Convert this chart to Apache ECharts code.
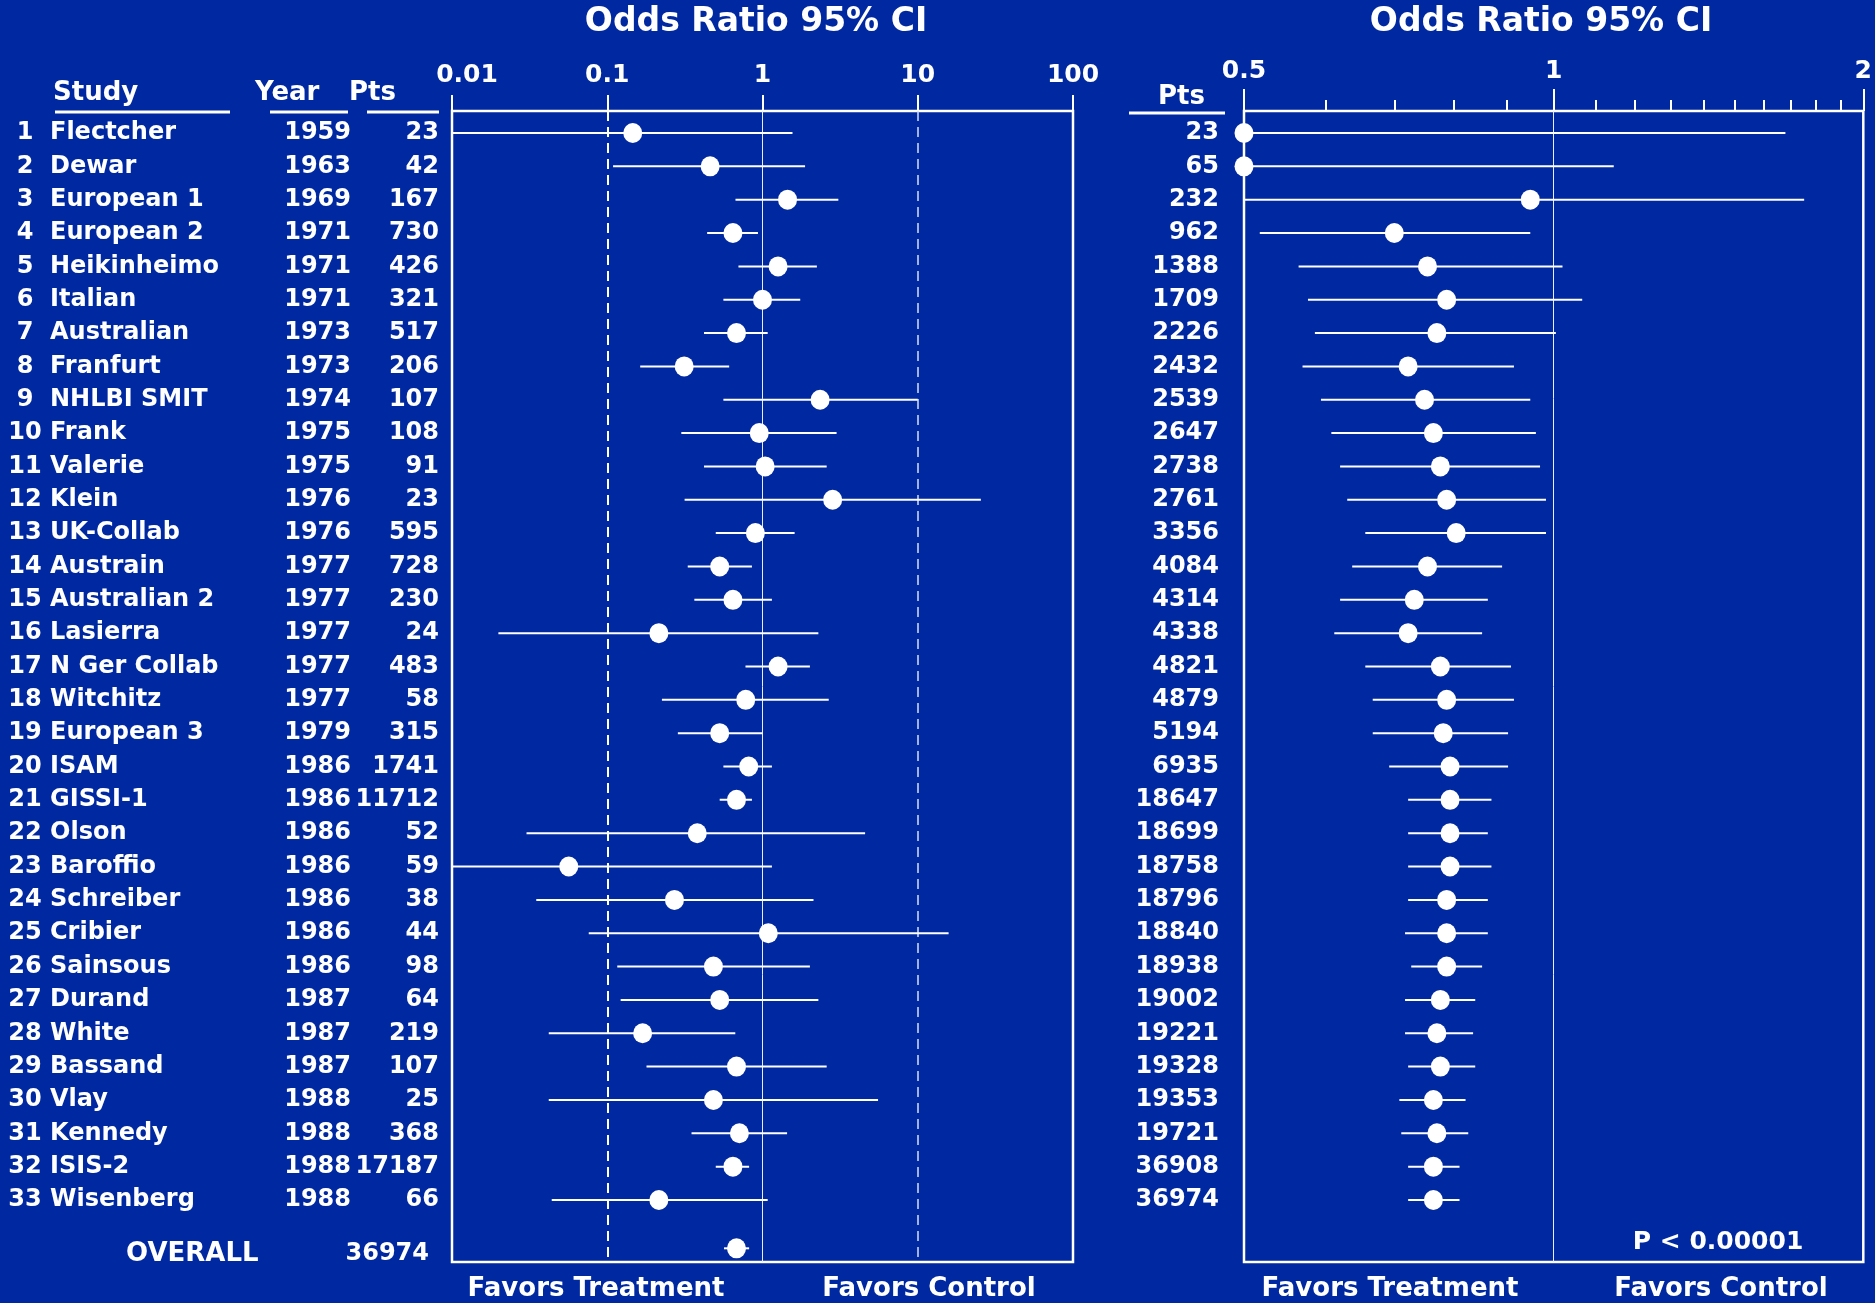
<!DOCTYPE html>
<html><head><meta charset="utf-8">
<script src="https://cdn.jsdelivr.net/npm/echarts@6/dist/echarts.min.js"></script>
<style>html,body{margin:0;padding:0;background:#0028A0;}#c{width:1875px;height:1303px;}</style>
</head><body><div id="c"></div>
<script>
// ---------- data ----------
const studyNames = ['Flectcher','Dewar','European 1','European 2','Heikinheimo','Italian','Australian','Franfurt','NHLBI SMIT','Frank','Valerie','Klein','UK-Collab','Austrain','Australian 2','Lasierra','N Ger Collab','Witchitz','European 3','ISAM','GISSI-1','Olson','Baroffio','Schreiber','Cribier','Sainsous','Durand','White','Bassand','Vlay','Kennedy','ISIS-2','Wisenberg'];
const years = [1959,1963,1969,1971,1971,1971,1973,1973,1974,1975,1975,1976,1976,1977,1977,1977,1977,1977,1979,1986,1986,1986,1986,1986,1986,1986,1987,1987,1987,1988,1988,1988,1988];
const patients = [23,42,167,730,426,321,517,206,107,108,91,23,595,728,230,24,483,58,315,1741,11712,52,59,38,44,98,64,219,107,25,368,17187,66];
const cumPatients = [23,65,232,962,1388,1709,2226,2432,2539,2647,2738,2761,3356,4084,4314,4338,4821,4879,5194,6935,18647,18699,18758,18796,18840,18938,19002,19221,19328,19353,19721,36908,36974];

const orStudy = [0.146,0.46,1.45,0.645,1.26,1.0,0.68,0.313,2.35,0.953,1.04,2.83,0.90,0.53,0.645,0.215,1.26,0.78,0.53,0.815,0.68,0.38,0.0565,0.271,1.09,0.483,0.53,0.169,0.68,0.483,0.71,0.645,0.215];
const loStudy = [0.01,0.109,0.67,0.44,0.70,0.56,0.42,0.163,0.56,0.30,0.42,0.315,0.50,0.33,0.364,0.0199,0.777,0.225,0.285,0.56,0.53,0.0302,0.01,0.0349,0.076,0.116,0.122,0.042,0.179,0.042,0.349,0.50,0.0439];
const hiStudy = [1.56,1.88,3.08,0.935,2.24,1.75,1.08,0.61,10,3.0,2.59,25.5,1.61,0.855,1.15,2.29,2.02,2.67,1.0,1.15,0.855,4.58,1.15,2.13,15.8,2.02,2.29,0.668,2.59,5.55,1.44,0.82,1.08];

const overallLabel = 'OVERALL';
const overallPatients = 36974;
const overallOR = [0.68];
const overallLo = [0.565];
const overallHi = [0.82];

const orCum = [0.5,0.5,0.949,0.70,0.754,0.787,0.770,0.722,0.749,0.764,0.776,0.787,0.804,0.754,0.732,0.722,0.776,0.787,0.781,0.793,0.793,0.793,0.793,0.787,0.787,0.787,0.776,0.770,0.776,0.764,0.770,0.764,0.764];
const loCum = [0.01,0.12,0.5,0.518,0.565,0.577,0.586,0.570,0.594,0.608,0.620,0.630,0.656,0.637,0.620,0.612,0.656,0.667,0.667,0.692,0.722,0.722,0.722,0.722,0.717,0.727,0.717,0.717,0.722,0.708,0.711,0.722,0.722];
const hiCum = [1.68,1.144,1.752,0.949,1.02,1.066,1.005,0.915,0.949,0.961,0.970,0.983,0.983,0.891,0.863,0.852,0.909,0.915,0.903,0.903,0.870,0.863,0.870,0.863,0.863,0.852,0.839,0.835,0.839,0.821,0.826,0.810,0.810];

const leftTicks = [0.01,0.1,1,10,100];
const leftTickLabels = ['0.01','0.1','1','10','100'];
const rightTicks = [0.5,1,2];
const rightTickLabels = ['0.5','1','2'];
const rightMinorTicks = [0.6,0.7,0.8,0.9,1.1,1.2,1.3,1.4,1.5,1.6,1.7,1.8,1.9];
const pValueText = 'P < 0.00001';
const titleText = 'Odds Ratio 95% CI';
const favorsLabels = ['Favors Treatment','Favors Control'];

// ---------- layout ----------
const rows = studyNames.map((_, i) => i + 1);
const overallRow = 34.45;
const overallLabelRow = overallRow + 0.17;
const BG = '#0028A0';
const FONT = '"DejaVu Sans", sans-serif';
const W = '#ffffff';
const yMin = 0.34, yMax = 34.86;

function tickLabel(ticks, labels, firstShift) {
  return v => {
    for (let i = 0; i < ticks.length; i++) {
      if (Math.abs(Math.log(v) - Math.log(ticks[i])) < 1e-6) {
        return (i === 0 && firstShift) ? '{f|' + labels[i] + '}' : labels[i];
      }
    }
    return '';
  };
}
function yBase(grid, extra) {
  return Object.assign({
    type: 'value', gridIndex: grid, inverse: true, min: yMin, max: yMax,
    axisLine: {show: false}, axisTick: {show: false}, splitLine: {show: false},
    axisLabel: {show: false}
  }, extra || {});
}
function yLabels(grid, offset, values, fmt, align, size) {
  return yBase(grid, {
    position: 'left', offset: offset,
    axisLabel: {show: true, customValues: values, formatter: fmt, align: align, margin: 0,
      color: W, fontFamily: FONT, fontWeight: 'bold', fontSize: size || 24}
  });
}
function ciSeries(xi, yi, lo, hi, rr) {
  return {
    type: 'custom', xAxisIndex: xi, yAxisIndex: yi, clip: true, silent: true, z: 3,
    data: rr.map((r, i) => [lo[i], hi[i], r]),
    encode: {x: [0, 1], y: 2},
    renderItem: function (params, api) {
      const p1 = api.coord([api.value(0), api.value(2)]);
      const p2 = api.coord([api.value(1), api.value(2)]);
      return {type: 'line', shape: {x1: p1[0], y1: p1[1], x2: p2[0], y2: p2[1]},
        style: {stroke: W, lineWidth: 2}};
    }
  };
}
function dotSeries(xi, yi, vals, rr, markLine) {
  const s = {
    type: 'scatter', xAxisIndex: xi, yAxisIndex: yi, clip: false, silent: true, z: 4,
    symbol: 'circle', symbolSize: [19, 20], itemStyle: {color: W, opacity: 1},
    data: rr.map((r, i) => [vals[i], r])
  };
  if (markLine) s.markLine = markLine;
  return s;
}
const txt = (text, x, y, size, align) => ({
  type: 'text', x: x, y: y, silent: true,
  style: {text: text, fill: W, fontFamily: FONT, fontWeight: 'bold', fontSize: size,
    align: align || 'left', verticalAlign: 'middle'}
});
const hline = (x1, x2, y) => ({
  type: 'line', silent: true, shape: {x1: x1, y1: y, x2: x2, y2: y},
  style: {stroke: W, lineWidth: 3}
});

const chart = echarts.init(document.getElementById('c'), null, {renderer: 'canvas'});
chart.setOption({
  backgroundColor: BG,
  animation: false,
  grid: [
    {left: 452, top: 111, width: 621, height: 1151, show: true, borderColor: W, borderWidth: 2.5, backgroundColor: 'transparent'},
    {left: 1244, top: 111, width: 622, height: 1151, show: true, borderColor: W, borderWidth: 2.5, backgroundColor: 'transparent'}
  ],
  xAxis: [
    {type: 'log', logBase: 10, gridIndex: 0, position: 'top', min: 0.01, max: 100,
      axisLine: {show: false}, splitLine: {show: false},
      axisTick: {show: true, length: 16, lineStyle: {color: W, width: 2}},
      axisLabel: {show: true, margin: 23, color: W, fontFamily: FONT, fontWeight: 'bold', fontSize: 25,
        formatter: tickLabel(leftTicks, leftTickLabels, true),
        rich: {f: {color: W, fontFamily: FONT, fontWeight: 'bold', fontSize: 25, padding: [0, 0, 0, 30]}}}},
    {type: 'log', logBase: 2, gridIndex: 1, position: 'top', min: 0.5, max: 2,
      axisLine: {show: false}, splitLine: {show: false},
      axisTick: {show: true, length: 22, customValues: rightTicks, lineStyle: {color: W, width: 2}},
      axisLabel: {show: true, margin: 27, customValues: rightTicks, color: W, fontFamily: FONT, fontWeight: 'bold', fontSize: 25,
        formatter: tickLabel(rightTicks, rightTickLabels, false)}},
    {type: 'log', logBase: 2, gridIndex: 1, position: 'top', min: 0.5, max: 2,
      axisLine: {show: false}, splitLine: {show: false},
      axisTick: {show: true, length: 11, customValues: rightMinorTicks, lineStyle: {color: W, width: 2}},
      axisLabel: {show: false}}
  ],
  yAxis: [
    yBase(0),
    yLabels(0, 427, rows, v => String(Math.round(v)), 'center'),
    yLabels(0, 402, rows, v => studyNames[Math.round(v) - 1] || '', 'left'),
    yLabels(0, 101, rows, v => String(years[Math.round(v) - 1] ?? ''), 'right'),
    yLabels(0, 13, rows, v => String(patients[Math.round(v) - 1] ?? ''), 'right'),
    yLabels(0, 326, [overallLabelRow], () => overallLabel, 'left', 26),
    yLabels(0, 23, [overallLabelRow], () => String(overallPatients), 'right'),
    yBase(1),
    yLabels(1, 25, rows, v => String(cumPatients[Math.round(v) - 1] ?? ''), 'right')
  ],
  series: [
    ciSeries(0, 0, loStudy, hiStudy, rows),
    dotSeries(0, 0, orStudy, rows, {
      symbol: 'none', silent: true, z: 1, label: {show: false},
      data: [
        {xAxis: 0.1, lineStyle: {type: [10, 6], width: 2, color: W}},
        {xAxis: 1, lineStyle: {type: 'solid', width: 1, color: '#e8ecff'}},
        {xAxis: 10, lineStyle: {type: [10, 6], width: 1.5, color: '#d8defa'}}
      ]
    }),
    ciSeries(0, 0, overallLo, overallHi, [overallRow]),
    dotSeries(0, 0, overallOR, [overallRow]),
    ciSeries(1, 7, loCum, hiCum, rows),
    dotSeries(1, 7, orCum, rows, {
      symbol: 'none', silent: true, z: 1, label: {show: false},
      data: [{xAxis: 1, lineStyle: {type: 'solid', width: 1, color: '#e8ecff'}}]
    })
  ],
  graphic: [
    txt(titleText, 756, 22, 33, 'center'),
    txt(titleText, 1541, 22, 33, 'center'),
    txt('Study', 53, 93, 26),
    txt('Year', 255, 93, 26),
    txt('Pts', 349, 93, 26),
    txt('Pts', 1158, 97, 26),
    hline(55, 230, 112),
    hline(270, 348, 112),
    hline(367, 439, 112),
    hline(1129, 1225, 113),
    txt(favorsLabels[0], 596, 1289, 26, 'center'),
    txt(favorsLabels[1], 929, 1289, 26, 'center'),
    txt(favorsLabels[0], 1390, 1289, 26, 'center'),
    txt(favorsLabels[1], 1721, 1289, 26, 'center'),
    txt(pValueText, 1718, 1242, 25, 'center')
  ]
});
</script></body></html>
